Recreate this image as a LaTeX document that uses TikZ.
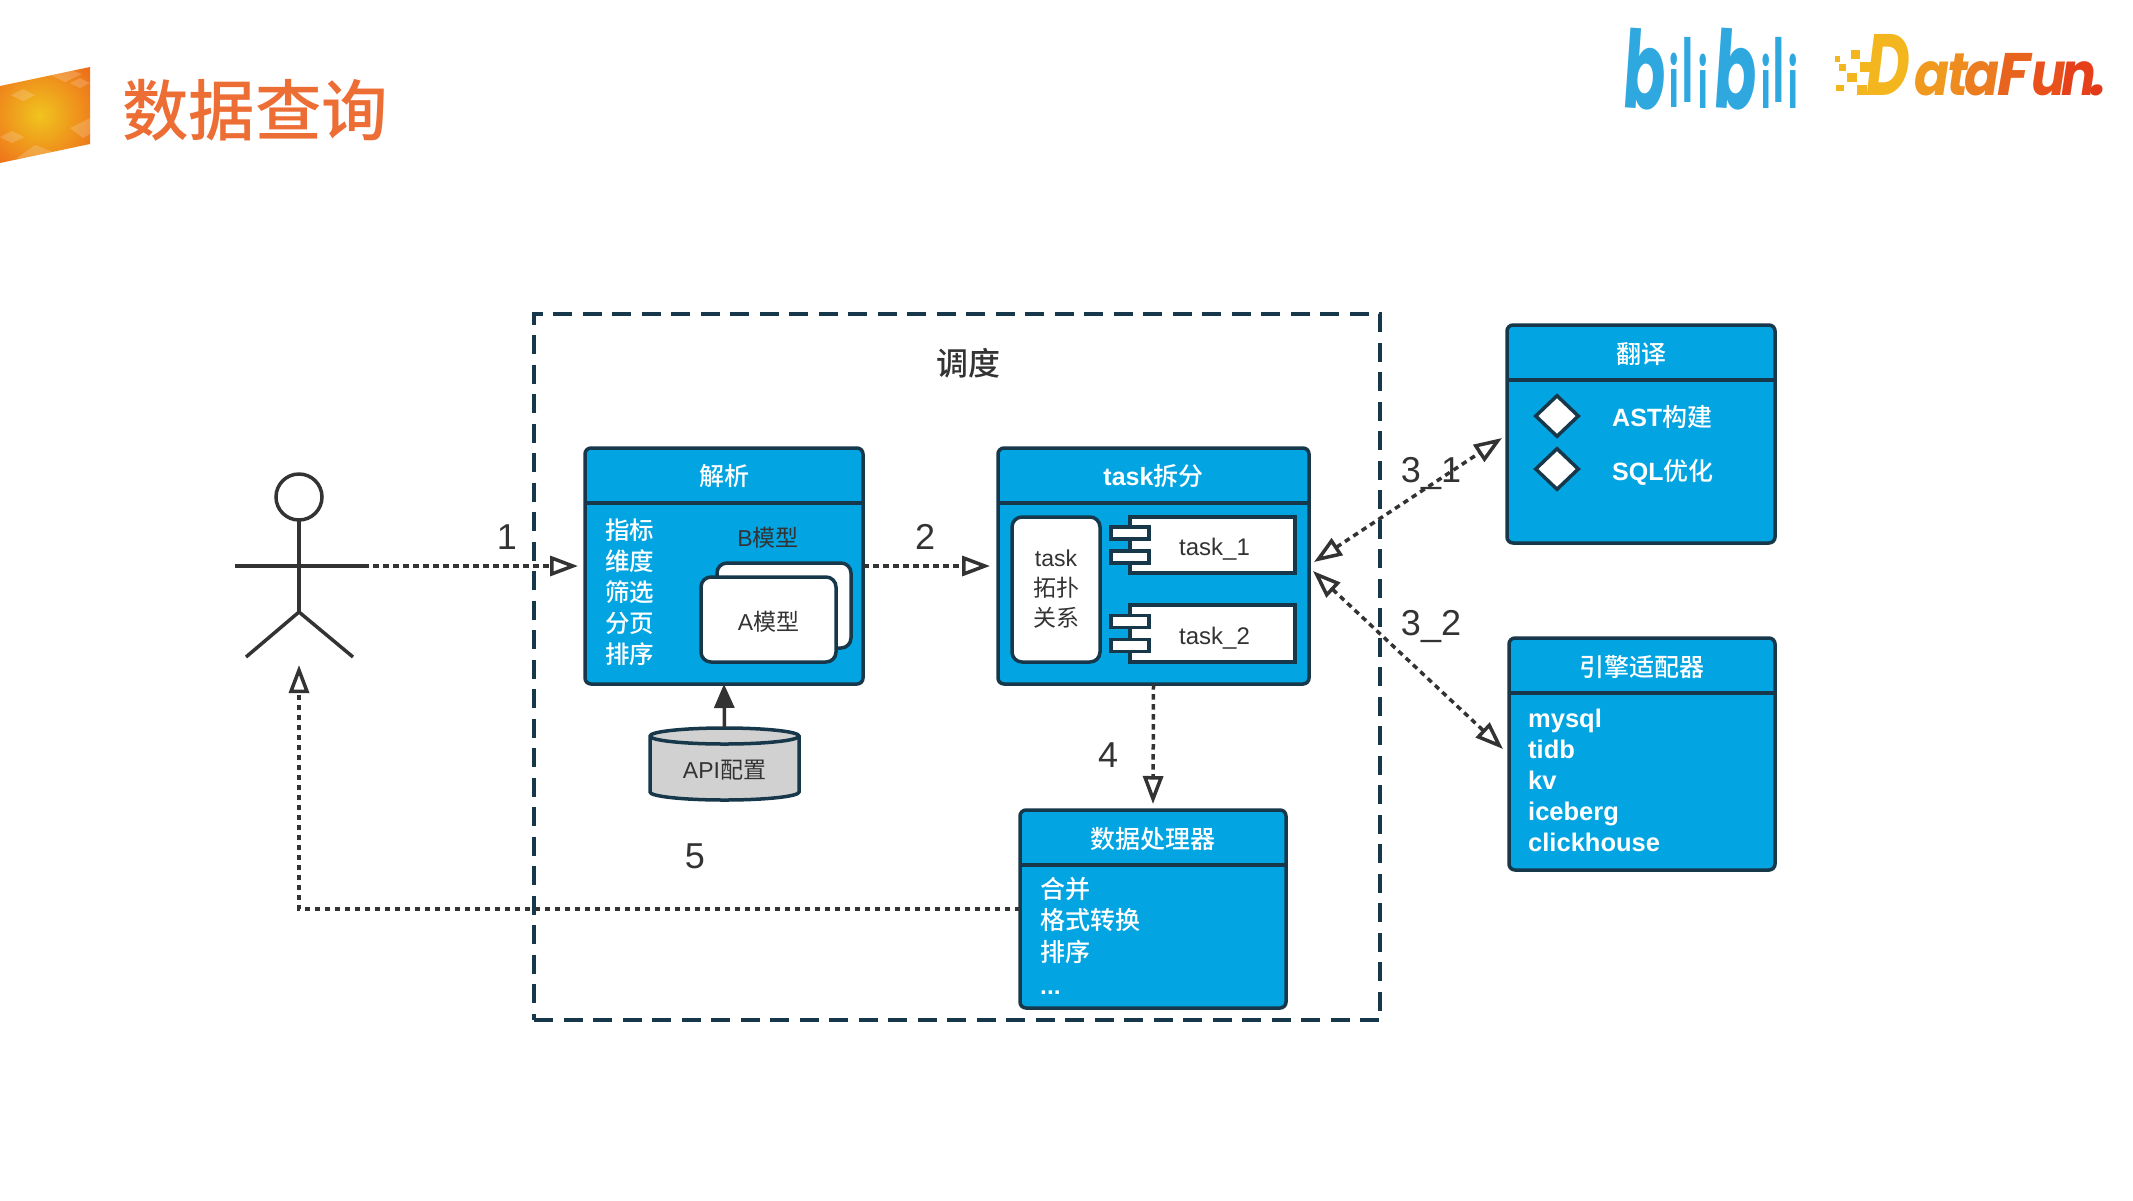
\documentclass[tikz,border=0pt]{standalone}
\usepackage{fontspec}
\setmainfont{Liberation Sans}
\newfontfamily\cjk{Noto Sans CJK SC}
\newfontfamily\cjkm{Noto Sans CJK SC Medium}
\newfontfamily\logofont{Poppins}
\usepackage{tikz}
\usetikzlibrary{positioning}
\usetikzlibrary{arrows.meta}
\usetikzlibrary{shapes.geometric}

\definecolor{paneblue}{HTML}{02A5E2}
\definecolor{inkdark}{HTML}{16384A}
\definecolor{inkgrey}{HTML}{333333}
\definecolor{titleorange}{HTML}{EC6E35}
\definecolor{biliblue}{HTML}{2FA8E0}
\definecolor{badgemid}{HTML}{F0C41E}
\definecolor{badgeedge}{HTML}{EE6F1A}
\definecolor{funa}{HTML}{F3B61F}
\definecolor{funb}{HTML}{EF9A1E}
\definecolor{func}{HTML}{EE8C20}
\definecolor{fund}{HTML}{EC7C20}
\definecolor{fune}{HTML}{E8641E}
\definecolor{funf}{HTML}{E8501C}
\definecolor{fung}{HTML}{E5401A}
\definecolor{funh}{HTML}{E23A18}

\newcommand{\cn}[1]{{\cjk #1}}
\newcommand{\cnm}[1]{{\mdseries\cjkm #1}}
\newcommand{\fs}[2]{\fontsize{#1}{#2}\selectfont}
\newcommand{\low}[2]{\raisebox{-#1}[0pt][0pt]{#2}}
\newcommand{\panerule}[1]{\draw[inkdark, line width=3.5pt] ([yshift=-55pt]#1.north west) -- ([yshift=-55pt]#1.north east);}

\tikzset{
  hollow/.tip={Triangle[open, length=28pt, width=20pt, line width=3.5pt]},
  flow/.style={draw=inkgrey, line width=3.5pt, dash pattern=on 5.5pt off 4.5pt},
  limb/.style={inkgrey, line width=3.5pt},
  pane/.style={draw=inkdark, fill=paneblue, line width=3.5pt, rounded corners=6pt, outer sep=0pt, anchor=north west},
  panetitle/.style={text=white, inner sep=0pt, font=\bfseries\fs{25}{30}},
  panelist/.style={text=white, inner sep=0pt, align=left, anchor=west},
  card/.style={draw=inkdark, fill=white, line width=3.5pt, rounded corners=10pt, outer sep=0pt, text=inkgrey, font=\fs{23}{30}, align=center},
  comp/.style={draw=inkdark, fill=white, line width=3.5pt, outer sep=0pt, text=inkgrey, font=\fs{24}{28}},
  port/.style={draw=inkdark, fill=white, line width=3.5pt, minimum width=38pt, minimum height=12pt, inner sep=0pt},
  flag/.style={draw=inkdark, fill=white, line width=3.5pt, diamond, minimum width=44pt, minimum height=42pt, inner sep=0pt},
  stepno/.style={text=inkgrey, inner sep=0pt, font=\fs{36}{40}},
  bili/.style={text=biliblue, inner sep=0pt, font=\logofont\bfseries\fs{80}{80}},
  fun/.style={inner sep=0pt, anchor=base west, font=\logofont\bfseries\itshape\fs{60}{60}},
}

\begin{document}
\begin{tikzpicture}[x=1pt,y=-1pt]
        \useasboundingbox (0,0) rectangle (2133,1200);

        % Corner badge and heading
        \begin{scope}
          \clip (0,86) -- (90,67) -- (90,144) -- (0,163) -- cycle;
          \shade[inner color=badgemid, outer color=badgeedge] (-25,50) rectangle (105,180);
          \fill[white, opacity=.18] (11,95) -- (23,89) -- (35,95) -- (23,101) -- cycle;
          \fill[white, opacity=.18] (70,83) -- (80,78) -- (90,83) -- (80,88) -- cycle;
          \fill[white, opacity=.18] (48,74) -- (65,68) -- (82,74) -- (65,82) -- cycle;
          \fill[white, opacity=.18] (0,137) -- (12,131) -- (24,137) -- (12,143) -- cycle;
          \fill[white, opacity=.18] (70,128) -- (90,118) -- (100,128) -- (83,138) -- cycle;
          \fill[white, opacity=.18] (17,158) -- (35,145) -- (53,152) -- (35,165) -- cycle;
        \end{scope}
        \node[text=titleorange, inner sep=0pt, anchor=west, font={\cjkm\fs{66.5}{70}}] (heading) at (122,110) {数据查询};

        % Logos
        \node[bili, rotate=-4] (lb1) at (1645,70) {\scalebox{.78}[1.35]{b}};
        \node[bili] (lb2) at (1674,80) {\scalebox{.4}[.85]{i}};
        \node[bili] (lb3) at (1688,70) {\scalebox{.45}[1.1]{l}};
        \node[bili] (lb4) at (1703,81) {\scalebox{.4}[.85]{i}};
        \node[bili, rotate=-4] (lb5) at (1736,70) {\scalebox{.78}[1.35]{b}};
        \node[bili] (lb6) at (1766,81) {\scalebox{.4}[.85]{i}};
        \node[bili] (lb7) at (1779,70) {\scalebox{.45}[1.1]{l}};
        \node[bili] (lb8) at (1793,81) {\scalebox{.4}[.85]{i}};

        \fill[funa] (1835,56) rectangle (1840,62);
        \fill[funa] (1851,50) rectangle (1860,59);
        \fill[funa] (1839,64) rectangle (1846,71);
        \fill[funa] (1860,62) rectangle (1872,72);
        \fill[funa] (1847,73) rectangle (1857,82);
        \fill[funa] (1836,85) rectangle (1844,91);
        \fill[funa] (1857,85) rectangle (1867,95);
        \node[fun, text=funa] (fd) at (1866,95) {\scalebox{1}[1.45]{D}};
        \node[fun, text=funb] (fa1) at (1914,95) {\scalebox{.86}[1]{a}};
        \node[fun, text=func] (ft) at (1947,95) {\scalebox{.86}[1]{t}};
        \node[fun, text=fund] (fa2) at (1964,95) {\scalebox{.86}[1]{a}};
        \node[fun, text=fune] (ff) at (1997,95) {F};
        \node[fun, text=funf] (fu) at (2031,95) {\scalebox{.86}[1]{u}};
        \node[fun, text=fung] (fn) at (2061,95) {\scalebox{.86}[1]{n}};
        \node[fun, text=funh] (fdot) at (2090,95) {.};

        % Scheduler frame
        \node[draw=inkdark, line width=3.5pt, dash pattern=on 19pt off 10.5pt, anchor=north west, minimum width=846pt, minimum height=706pt, outer sep=0pt] (sched) at (534,314) {};
        \node[text=inkgrey, inner sep=0pt, font={\cjkm\fs{32}{36}}] (schedname) at (968,363) {调度};

        % Actor
        \node[circle, draw=inkgrey, line width=3.5pt, minimum size=46pt, inner sep=0pt, outer sep=0pt] (head) at (299,497) {};
        \coordinate (hip) at (299,612);
        \coordinate (lhand) at (235,566);
        \coordinate (rhand) at (363,566);
        \coordinate (lfoot) at (246,657);
        \coordinate (rfoot) at (353,657);
        \coordinate (under) at (299,665);
        \draw[limb] (head) -- (hip);
        \draw[limb] (lhand) -- (rhand);
        \draw[limb] (lfoot) -- (hip) -- (rfoot);

        % Parse box
        \node[pane, minimum width=278pt, minimum height=236pt] (parse) at (585,448) {};
        \panerule{parse}
        \node[panetitle] (parsename) at ([yshift=-28pt]parse.north) {\cnm{解析}};
        \node[panelist, font={\cjkm\fs{24.5}{31}}] (parselist) at (605,592.5) {指标\\维度\\筛选\\分页\\排序};
        \node[card, anchor=north west, minimum width=134pt, minimum height=85pt] (mb) at (717,563) {};
        \node[card, anchor=north west, minimum width=135pt, minimum height=85pt] (ma) at (701,577) {\low{10.5pt}{A\cn{模型}}};
        \node[text=inkgrey, inner sep=0pt, font=\fs{23}{28}] (mbname) at (768,538) {B\cn{模型}};

        % Config store
        \fill[black!18, draw=inkdark, line width=3.5pt] (650,736) -- (650,792) arc[start angle=180, end angle=360, x radius=74.5pt, y radius=8pt] -- (799,736) arc[start angle=0, end angle=180, x radius=74.5pt, y radius=8pt] -- cycle;
        \draw[inkdark, line width=3.5pt] (650,736) arc[start angle=180, end angle=360, x radius=74.5pt, y radius=8pt];
        \node[minimum width=149pt, minimum height=72pt, inner sep=0pt, outer sep=0pt, text=inkgrey, font=\fs{23}{28}] (api) at (724.5,764) {\low{14pt}{API\cn{配置}}};

        % Task box
        \node[pane, right=135pt of parse, anchor=west, minimum width=311pt, minimum height=236pt] (task) {};
        \panerule{task}
        \node[panetitle] (taskname) at ([yshift=-28pt]task.north) {task\cnm{拆分}};
        \node[card, anchor=north west, minimum width=88pt, minimum height=145pt, inner sep=0pt] (topo) at (1012,517) {task\\\cn{拓扑}\\\cn{关系}};
        \node[comp, anchor=north west, minimum width=165pt, minimum height=56pt, inner sep=0pt] (t1) at (1130,517) {\hspace{4pt}\low{10pt}{task\_1}};
        \node[comp, below=32pt of t1, minimum width=165pt, minimum height=57pt, inner sep=0pt] (t2) {\hspace{4pt}\low{10.5pt}{task\_2}};
        \node[port] (p1a) at ([yshift=12pt]t1.west) {};
        \node[port] (p1b) at ([yshift=-12pt]t1.west) {};
        \node[port] (p2a) at ([yshift=12pt]t2.west) {};
        \node[port] (p2b) at ([yshift=-12pt]t2.west) {};

        % Data processor
        \node[pane, minimum width=266pt, minimum height=198pt] (proc) at (1020,810) {};
        \panerule{proc}
        \node[panetitle] (procname) at ([yshift=-29pt]proc.north) {\cnm{数据处理器}};
        \node[panelist, font={\cjkm\fs{25}{31.5}}] (proclist) at (1040,920) {合并\\格式转换\\排序};
        \node[panelist, font=\bfseries\fs{24.5}{30}] (procmore) at (1040,993) {...};

        % Translate box
        \node[pane, minimum width=268pt, minimum height=218pt] (trans) at (1507,325) {};
        \panerule{trans}
        \node[panetitle] (transname) at ([yshift=-29pt]trans.north) {\cnm{翻译}};
        \node[flag] (m1) at (1557,416) {};
        \node[flag] (m2) at (1557,469) {};
        \node[panelist, font=\bfseries\fs{25}{30}] (astname) at (1612,417) {AST\cnm{构建}};
        \node[panelist, font=\bfseries\fs{25}{30}] (sqlname) at (1612,472) {SQL\cnm{优化}};

        % Engine adapters
        \node[pane, minimum width=266pt, minimum height=232pt] (engine) at (1509,638) {};
        \panerule{engine}
        \node[panetitle] (enginename) at ([yshift=-29pt]engine.north) {\cnm{引擎适配器}};
        \node[panelist, font=\bfseries\fs{25.5}{31}] (enginelist) at (1528,780) {mysql\\tidb\\kv\\iceberg\\clickhouse};

        % Edges
        \coordinate (q1) at (1314,562);
        \coordinate (q2) at (1313,571);
        \coordinate (a1) at (1502,438);
        \coordinate (a2) at (1503,749);
        \draw[flow, -{hollow}] (rhand) -- ([xshift=-7pt]rhand -| parse.west);
        \draw[flow, -{hollow}] (rhand -| parse.east) -- ([xshift=-8pt]rhand -| task.west);
        \draw[flow, {hollow}-{hollow}] (q1) -- (a1);
        \draw[flow, {hollow}-{hollow}] (q2) -- (a2);
        \draw[flow, -{hollow}] (task.south) -- ([yshift=6pt]proc.north);
        \draw[flow, -{hollow}] (proc.west) -| (under);
        \draw[limb, -{Triangle[length=24pt, width=20pt]}] (api.north) -- (parse.south);

        % Step numbers
        \node[stepno] (n1) at (507,537) {1};
        \node[stepno] (n2) at (925,537) {2};
        \node[stepno] (n31) at (1431,473) {3\_1};
        \node[stepno] (n32) at (1431,626) {3\_2};
        \node[stepno] (n4) at (1108,755) {4};
        \node[stepno] (n5) at (695,856) {5};
    \end{tikzpicture}
\end{document}
